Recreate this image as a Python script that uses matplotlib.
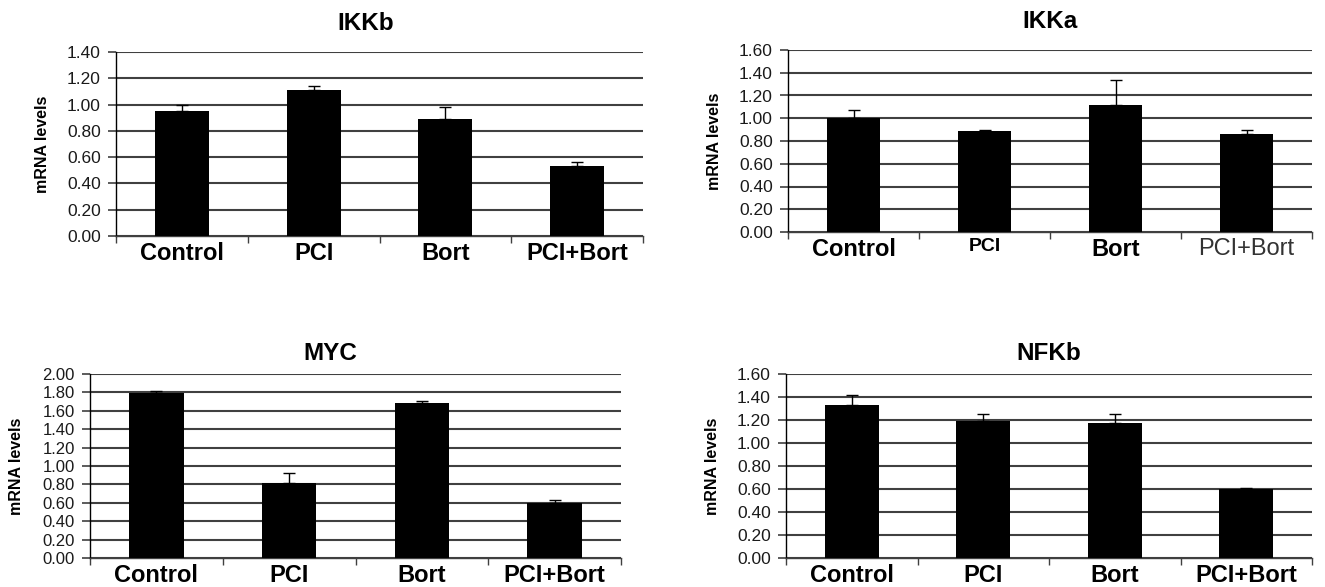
import numpy as np
import matplotlib
matplotlib.use("Agg")
import matplotlib.pyplot as plt

plt.rcParams['font.family'] = ['Liberation Sans', 'DejaVu Sans']

categories = ['Control', 'PCI', 'Bort', 'PCI+Bort']

ikkb_vals = [0.95, 1.11, 0.89, 0.53]
ikkb_err = [0.05, 0.03, 0.09, 0.03]
ikka_vals = [1.00, 0.89, 1.12, 0.86]
ikka_err = [0.07, 0.01, 0.22, 0.04]
myc_vals = [1.79, 0.81, 1.68, 0.60]
myc_err = [0.02, 0.11, 0.03, 0.03]
nfkb_vals = [1.33, 1.19, 1.17, 0.60]
nfkb_err = [0.09, 0.06, 0.08, 0.01]

W, H = 1325, 587
fig = plt.figure(figsize=(W / 100, H / 100), dpi=100)


def add_ax(x0, x1, ytop, ybot):
    return fig.add_axes([x0 / W, 1 - ybot / H, (x1 - x0) / W, (ybot - ytop) / H])


def panel(ax, title, vals, err, ymax, ystep, ytick_fs, title_pad, title_x=0.5, label_styles=None):
    x = np.arange(len(categories))
    yerr = np.array([np.zeros(len(err)), err])
    ax.bar(x, vals, width=0.41, color='black', zorder=3)
    ax.errorbar(x, vals, yerr=yerr, fmt='none', ecolor='black', elinewidth=1.0,
                capsize=4, capthick=1.0, zorder=2)
    ax.set_xlim(-0.5, len(categories) - 0.5)
    ax.set_ylim(0, ymax)
    yt = np.arange(0, ymax + ystep / 2, ystep)
    ax.set_yticks(yt)
    ax.set_yticklabels(['%.2f' % v for v in yt], fontsize=ytick_fs, color='#1a1a1a')
    ax.yaxis.grid(True, color='#404040', linewidth=1.5, zorder=1)
    ax.set_axisbelow(True)
    for s in ['top', 'right']:
        ax.spines[s].set_visible(False)
    ax.spines['left'].set_linewidth(1.0)
    ax.spines['bottom'].set_linewidth(1.0)
    ax.spines['bottom'].set_color('#404040')
    ax.tick_params(axis='y', direction='out', length=6, width=1.2, color='#404040', pad=5)
    ax.set_xticks(x)
    ax.set_xticks(np.arange(-0.5, len(categories)), minor=True)
    ax.tick_params(axis='x', which='major', length=0, pad=4)
    ax.tick_params(axis='x', which='minor', direction='out', length=5, width=1, color='#404040')
    ax.set_xticklabels(categories)
    for i, lab in enumerate(ax.get_xticklabels()):
        if label_styles is None:
            lab.set_fontsize(17)
            lab.set_fontweight('bold')
        else:
            fs, fw, col = label_styles[i]
            lab.set_fontsize(fs)
            lab.set_fontweight(fw)
            lab.set_color(col)
    ax.set_title(title, fontsize=17.5, fontweight='bold', pad=title_pad, x=title_x)
    ax.set_ylabel('mRNA levels', fontsize=11.5, fontweight='bold')
    ax.yaxis.set_label_coords(-66 / ((ax.get_position().width) * W), 0.5)


ax1 = add_ax(116, 643, 52, 236)
panel(ax1, 'IKKb', ikkb_vals, ikkb_err, 1.40, 0.20, 12.5, 16, title_x=0.474)

ax2 = add_ax(788, 1312, 50, 232)
ikka_styles = [(17, 'bold', 'black'), (14, 'bold', 'black'),
               (17, 'bold', 'black'), (17, 'normal', '#333333')]
panel(ax2, 'IKKa', ikka_vals, ikka_err, 1.60, 0.20, 12.5, 16, label_styles=ikka_styles)

ax3 = add_ax(90, 621, 374, 558)
panel(ax3, 'MYC', myc_vals, myc_err, 2.00, 0.20, 12, 10, title_x=0.452)

ax4 = add_ax(786, 1312, 374, 558)
panel(ax4, 'NFKb', nfkb_vals, nfkb_err, 1.60, 0.20, 12.5, 10)

fig.savefig('out.png', dpi=100, facecolor='white')
